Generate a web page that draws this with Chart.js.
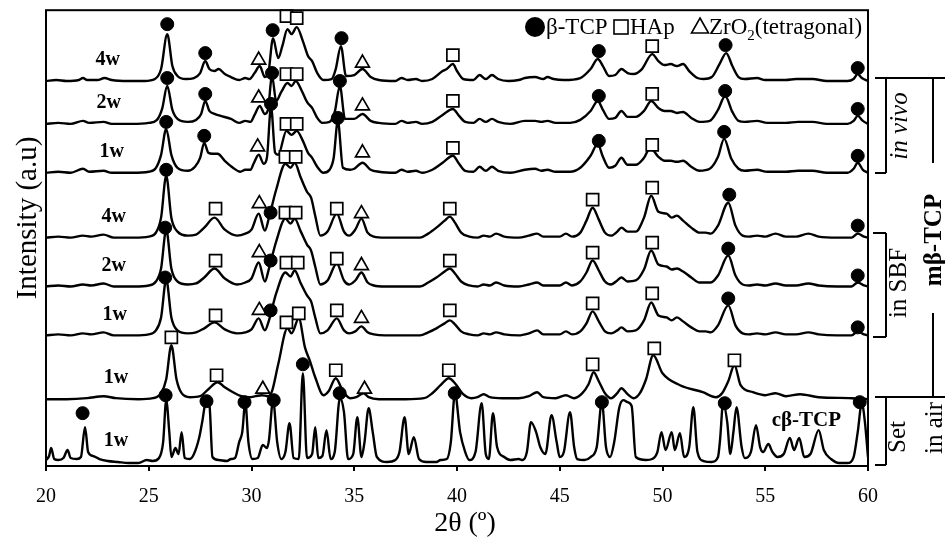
<!DOCTYPE html>
<html><head><meta charset="utf-8">
<script src="https://cdn.jsdelivr.net/npm/chart.js@4/dist/chart.umd.min.js"></script>
<style>html,body{margin:0;padding:0;background:#fff;}#wrap{width:945px;height:544px;position:relative;}</style>
</head><body><div id="wrap"><canvas id="c" width="945" height="544"></canvas></div>
<script>
// ---------- DATA (2θ in degrees, intensity in a.u. above each pattern's baseline) ----------
const xTicks = [20,25,30,35,40,45,50,55,60];
const traceNames = ['in vivo 4w','in vivo 2w','in vivo 1w','in SBF 4w','in SBF 2w','in SBF 1w','mβ-TCP set in air 1w','cβ-TCP set in air 1w'];
const traceLabels = ['4w','2w','1w','4w','2w','1w','1w','1w'];
const offsets = [386,343,294,229,180,131,67,4];

const vivo4w = [[20,0],[20.5,1],[21,0],[21.6,1],[21.8,3],[22,1],[22.5,1],[22.85,3],[23.2,1],[24,0],[24.8,0],[25.3,2],[25.6,12],[25.9,47],[26.15,15],[26.4,5],[26.8,2],[27.2,3],[27.5,8],[27.75,20],[27.95,12],[28.2,10],[28.4,12],[28.7,7],[29,4],[29.4,1],[29.7,3],[29.9,2],[30.15,8],[30.4,15],[30.65,4],[30.8,6],[31.05,43],[31.3,23],[31.5,35],[31.75,52],[31.95,47],[32.2,54],[32.5,40],[32.75,25],[32.95,20],[33.2,8],[33.5,1],[33.9,2],[34.1,12],[34.35,35],[34.6,5],[35,6],[35.4,12],[35.8,4],[36.2,1],[37,0],[37.3,3],[37.6,1],[38,2],[38.3,0],[38.8,2],[39.3,10],[39.5,12],[39.8,17],[40,10],[40.3,2],[40.8,1],[41.1,6],[41.4,2],[41.7,6],[42,2],[42.5,0],[43,1],[43.3,3],[43.8,4],[44.2,2],[44.4,4],[44.7,2],[45.2,1],[46,3],[46.5,12],[46.85,22],[47.1,15],[47.4,5],[47.7,6],[48,12],[48.3,8],[48.6,7],[49,12],[49.5,27],[49.8,20],[50.1,16],[50.4,17],[50.7,15],[51,17],[51.3,10],[51.7,3],[52,2],[52.4,4],[52.8,18],[53.1,28],[53.4,15],[53.7,4],[54,2],[54.6,3],[55,1],[56,1],[56.5,2],[57.3,2],[58,0],[59,0],[59.3,2],[59.5,7],[59.7,3],[60,0]];
const vivo2w = [[20,0],[20.6,1],[21.2,0],[21.8,3],[22.1,1],[22.8,2],[23.2,0],[24.2,0],[25,1],[25.4,4],[25.65,15],[25.9,38],[26.15,14],[26.4,5],[26.9,2],[27.3,4],[27.55,10],[27.75,23],[27.95,13],[28.2,10],[28.5,8],[29,5],[29.4,1],[29.7,3],[29.95,2],[30.15,9],[30.4,18],[30.65,10],[30.8,14],[31,48],[31.2,23],[31.45,32],[31.75,41],[31.95,38],[32.15,43],[32.45,33],[32.7,22],[32.95,16],[33.2,6],[33.45,1],[33.8,2],[34.05,12],[34.3,38],[34.55,5],[35,5],[35.4,10],[35.8,3],[36.2,1],[37,0],[37.3,3],[37.6,1],[38,2],[38.3,0],[38.8,2],[39.3,9],[39.8,15],[40.1,8],[40.4,2],[40.8,1],[41.1,5],[41.4,2],[41.7,5],[42,2],[42.6,0],[43.3,3],[43.8,3],[44.1,2],[44.4,3],[44.8,1],[45.5,1],[46,4],[46.5,13],[46.85,23],[47.1,14],[47.4,5],[47.7,6],[48,13],[48.3,7],[48.7,7],[49.1,13],[49.45,23],[49.8,16],[50.1,13],[50.4,13],[50.7,11],[51,12],[51.4,6],[51.8,2],[52.3,3],[52.7,14],[53.05,28],[53.4,12],[53.7,3],[54,2],[54.6,3],[55.1,1],[56,1],[56.6,2],[57.3,2],[58,0],[59,0],[59.3,3],[59.5,8],[59.75,3],[60,0]];
const vivo1w = [[20,0],[20.6,1],[21.2,0],[21.8,4],[22.1,1],[22.8,2],[23.2,0],[24.2,0],[25,1],[25.35,5],[25.6,18],[25.85,44],[26.1,18],[26.4,5],[26.9,2],[27.25,6],[27.5,15],[27.7,30],[27.9,20],[28.1,19],[28.35,19],[28.7,12],[29.1,5],[29.45,1],[29.7,3],[29.95,3],[30.1,9],[30.35,18],[30.6,9],[30.75,15],[30.95,66],[31.15,20],[31.3,18],[31.7,42],[31.95,38],[32.2,42],[32.5,32],[32.75,20],[32.95,15],[33.2,6],[33.5,0],[33.8,3],[34,15],[34.2,52],[34.45,5],[34.8,3],[35,4],[35.4,10],[35.8,3],[36.2,1],[37,0],[37.3,3],[37.6,1],[38,2],[38.3,0],[38.8,3],[39.3,10],[39.8,17],[40.1,9],[40.4,2],[40.8,1],[41.1,6],[41.4,2],[41.7,6],[42,2],[42.6,0],[43.3,3],[43.8,4],[44.1,2],[44.4,3],[44.8,1],[45.5,1],[46,5],[46.5,17],[46.85,29],[47.1,16],[47.4,5],[47.7,7],[48,15],[48.3,8],[48.7,8],[49.1,15],[49.4,25],[49.8,16],[50.1,12],[50.4,12],[50.7,11],[51,12],[51.4,6],[51.8,2],[52.3,4],[52.7,16],[53,34],[53.35,14],[53.7,4],[54,2],[54.6,3],[55.1,1],[56,1],[56.6,2],[57.3,2],[58,0],[59,0],[59.3,4],[59.5,10],[59.75,3],[60,0]];
const sbf4w = [[20,0],[20.6,1],[21.2,0],[21.8,2],[22.2,1],[22.8,3],[23.3,0],[24.3,0],[25,1],[25.35,5],[25.6,20],[25.85,62],[26.1,20],[26.4,6],[26.9,2],[27.3,3],[27.7,10],[28.2,20],[28.7,8],[29.3,2],[29.7,4],[30,8],[30.35,24],[30.65,7],[30.85,20],[31.2,48],[31.65,74],[31.9,70],[32.1,75],[32.4,60],[32.7,46],[32.9,40],[33.1,22],[33.35,2],[33.7,6],[34.15,24],[34.5,6],[34.75,2],[35.05,8],[35.35,19],[35.65,5],[35.95,1],[36.5,0],[37.5,0],[38.2,0],[38.6,4],[39,10],[39.4,17],[39.65,21],[39.9,15],[40.2,5],[40.6,1],[41,0],[41.3,2],[41.6,1],[41.9,4],[42.3,1],[43,0],[43.5,2],[43.9,4],[44.2,1],[45,1],[45.3,4],[45.6,1],[46,5],[46.3,17],[46.6,30],[46.9,18],[47.2,5],[47.5,2],[47.8,6],[48,10],[48.3,6],[48.7,6],[49.1,20],[49.45,42],[49.8,26],[50.2,24],[50.45,20],[50.7,22],[51,17],[51.4,10],[51.8,5],[52.1,5],[52.35,4],[52.7,12],[53.2,35],[53.55,12],[53.9,2],[54.2,1],[54.6,2],[55,1],[55.5,4],[56,1],[56.5,1],[57.1,4],[57.6,1],[58.5,0],[59.2,0],[59.5,4],[59.8,1],[60,0]];
const sbf2w = [[20,0],[20.6,1],[21.2,0],[21.8,2],[22.2,1],[22.8,3],[23.3,0],[24.3,0],[25,1],[25.35,5],[25.6,18],[25.85,57],[26.1,18],[26.4,5],[26.9,2],[27.3,3],[27.7,9],[28.2,18],[28.7,8],[29.3,2],[29.7,4],[30,8],[30.35,24],[30.65,5],[30.85,18],[31.2,45],[31.65,68],[31.9,63],[32.1,68],[32.4,55],[32.7,42],[32.9,36],[33.1,20],[33.35,2],[33.7,6],[34.15,23],[34.5,6],[34.75,2],[35.05,6],[35.35,14],[35.65,4],[35.95,1],[36.5,0],[37.5,0],[38.2,0],[38.6,4],[39,9],[39.4,15],[39.65,18],[39.9,13],[40.2,5],[40.6,1],[41,0],[41.3,2],[41.6,1],[41.9,4],[42.3,1],[43,0],[43.5,2],[43.9,4],[44.2,1],[45,1],[45.3,4],[45.6,1],[46,5],[46.3,14],[46.6,26],[46.9,16],[47.2,5],[47.5,2],[47.8,6],[48,9],[48.3,5],[48.7,6],[49.1,17],[49.45,36],[49.8,22],[50.2,20],[50.45,17],[50.7,18],[51,15],[51.4,9],[51.8,4],[52.1,4],[52.35,4],[52.7,11],[53.2,31],[53.55,11],[53.9,2],[54.2,1],[54.6,2],[55,1],[55.5,3],[56,1],[56.5,1],[57.1,3],[57.6,1],[58.5,0],[59.2,0],[59.5,4],[59.8,1],[60,0]];
const sbf1w = [[20,0],[20.6,1],[21.2,0],[21.8,2],[22.2,1],[22.8,3],[23.3,0],[24.3,0],[25,1],[25.35,5],[25.6,18],[25.85,56],[26.1,18],[26.4,5],[26.9,2],[27.3,3],[27.7,7],[28.2,13],[28.7,6],[29.3,2],[29.7,3],[30,6],[30.35,17],[30.65,5],[30.85,15],[31.2,42],[31.65,63],[31.9,59],[32.1,65],[32.4,52],[32.7,40],[32.9,34],[33.1,18],[33.35,2],[33.7,5],[34.15,17],[34.5,5],[34.75,2],[35.05,4],[35.35,9],[35.65,3],[35.95,1],[36.5,0],[37.5,0],[38.2,0],[38.6,3],[39,7],[39.4,12],[39.65,15],[39.9,11],[40.2,4],[40.6,1],[41,0],[41.3,2],[41.6,1],[41.9,3],[42.3,1],[43,0],[43.5,2],[43.9,5],[44.2,1],[45,1],[45.3,4],[45.6,1],[46,4],[46.3,12],[46.6,24],[46.9,14],[47.2,4],[47.5,2],[47.8,5],[48,8],[48.3,4],[48.7,5],[49.1,15],[49.45,33],[49.8,20],[50.2,18],[50.45,15],[50.7,18],[51,14],[51.4,8],[51.8,4],[52.1,4],[52.35,3],[52.7,10],[53.2,30],[53.55,10],[53.9,2],[54.2,1],[54.6,2],[55,1],[55.5,3],[56,1],[56.5,1],[57.1,3],[57.6,1],[58.5,0],[59.2,0],[59.5,4],[59.8,1],[60,0]];
const mtcpAir = [[20,0],[21,0],[22,1],[22.8,3],[23.4,1],[24.5,0],[25.2,1],[25.6,6],[25.85,20],[26.1,54],[26.35,20],[26.6,6],[27,2],[27.5,3],[27.9,10],[28.35,17],[28.7,12],[29.1,7],[29.5,3],[29.9,2],[30.2,3],[30.5,4],[30.8,3],[31,8],[31.3,35],[31.75,71],[31.95,66],[32.3,81],[32.6,52],[32.85,38],[33.1,22],[33.5,4],[33.75,8],[34.1,21],[34.45,8],[34.8,1],[35.1,2],[35.45,6],[35.7,2],[36.2,0],[37.5,0],[38.4,1],[38.8,6],[39.2,14],[39.6,21],[39.9,16],[40.3,5],[40.7,1],[41,2],[41.3,5],[41.6,2],[42.2,1],[43,1],[43.5,3],[43.9,7],[44.2,2],[44.8,1],[45.3,4],[45.7,1],[46.1,6],[46.4,15],[46.65,27],[46.9,18],[47.2,6],[47.5,1],[47.8,6],[48,11],[48.3,5],[48.6,1],[48.9,6],[49.2,20],[49.55,44],[50,26],[50.85,14],[51.96,7],[52.6,2],[52.9,6],[53.2,18],[53.5,34],[53.8,14],[54.4,7],[55,4],[55.5,6],[56,3],[56.7,5],[57.6,2],[59.2,1],[60,0]];
const ctcpAir = [[20,2],[20.15,6],[20.25,14],[20.4,3],[20.6,2],[20.85,4],[21.05,12],[21.2,4],[21.5,3],[21.7,5],[21.9,35],[22.05,10],[22.3,6],[22.6,3],[23,1],[23.5,0],[24,-1],[24.5,-1],[24.9,2],[25.2,1],[25.5,4],[25.7,20],[25.85,62],[26,30],[26.1,5],[26.3,14],[26.45,8],[26.6,30],[26.75,4],[27,3],[27.2,8],[27.45,24],[27.6,40],[27.8,62],[27.95,58],[28.1,5],[28.4,2],[28.8,1],[29,3],[29.2,4],[29.4,20],[29.55,30],[29.7,60],[29.85,20],[30.05,3],[30.3,4],[30.55,17],[30.75,14],[30.85,22],[31.05,62],[31.25,20],[31.45,3],[31.65,10],[31.85,39],[32.05,4],[32.3,3],[32.5,89],[32.7,4],[32.95,8],[33.1,35],[33.25,4],[33.45,6],[33.65,32],[33.85,3],[34.05,10],[34.3,64],[34.5,50],[34.7,3],[34.95,8],[35.15,45],[35.35,5],[35.5,20],[35.7,54],[35.9,30],[36.1,5],[36.6,0],[37,2],[37.2,10],[37.45,45],[37.65,8],[37.9,25],[38.15,3],[38.5,0],[39,0],[39.2,2],[39.5,3],[39.7,20],[39.9,69],[40.15,30],[40.4,10],[40.6,2],[40.9,10],[41.2,59],[41.4,8],[41.55,3],[41.75,49],[41.95,15],[42.3,5],[42.6,2],[43,3],[43.2,2],[43.4,10],[43.6,40],[43.85,30],[44.05,15],[44.3,8],[44.6,47],[44.85,20],[45,5],[45.2,10],[45.5,50],[45.7,15],[45.85,3],[46.2,2],[46.5,5],[46.8,15],[47.05,60],[47.25,15],[47.45,5],[47.65,20],[47.9,55],[48.1,62],[48.3,60],[48.5,56],[48.7,5],[49.2,2],[49.5,3],[49.75,10],[49.95,30],[50.15,12],[50.45,30],[50.6,12],[50.85,29],[51.05,5],[51.3,15],[51.5,55],[51.7,10],[52,1],[52.4,0],[52.7,5],[52.8,22],[52.95,59],[53.15,40],[53.3,8],[53.45,30],[53.6,55],[53.85,15],[54,4],[54.3,10],[54.55,37],[54.75,15],[54.9,10],[55.15,18],[55.35,10],[55.6,5],[55.9,8],[56.2,24],[56.4,12],[56.65,24],[56.9,5],[57.2,8],[57.6,32],[57.85,12],[58.2,3],[58.6,-1],[59,-1],[59.3,5],[59.5,30],[59.7,59],[59.85,40],[60,5]];

// phase markers: [phase, 2θ, height above baseline]  b = β-TCP, h = HAp, z = ZrO2
const vivo4wMarks = [['b',25.9,57],['b',27.75,28],['z',30.35,21],['b',31.03,51],['h',31.7,65],['h',32.2,63],['b',34.38,43],['z',35.4,18],['h',39.8,26],['b',46.9,30],['h',49.5,35],['b',53.07,36],['b',59.5,13]];
const vivo2wMarks = [['b',25.9,46],['b',27.75,30],['z',30.35,26],['b',31.0,51],['h',31.7,50],['h',32.2,50],['b',34.3,43],['z',35.4,18],['h',39.8,23],['b',46.9,28],['h',49.5,30],['b',53.05,33],['b',59.5,15]];
const vivo1wMarks = [['b',25.85,51],['b',27.7,37],['z',30.3,26],['b',30.95,69],['h',31.7,49],['h',32.2,49],['b',34.2,55],['z',35.4,20],['h',39.8,25],['b',46.9,32],['h',49.5,28],['b',53.0,41],['b',59.5,17]];
const sbf4wMarks = [['b',25.85,68],['h',28.25,29],['z',30.38,34],['b',30.93,25],['h',31.65,81],['h',32.15,81],['h',34.15,29],['z',35.35,24],['h',39.65,29],['h',46.6,38],['h',49.5,50],['b',53.25,43],['b',59.5,12]];
const sbf2wMarks = [['b',25.8,59],['h',28.25,26],['z',30.38,34],['b',30.93,26],['h',31.65,74],['h',32.15,74],['h',34.15,28],['z',35.35,21],['h',39.65,26],['h',46.6,34],['h',49.5,44],['b',53.2,38],['b',59.5,11]];
const sbf1wMarks = [['b',25.8,58],['h',28.25,20],['z',30.38,25],['b',30.93,25],['h',31.7,73],['h',32.25,73],['h',34.15,25],['z',35.35,17],['h',39.65,25],['h',46.6,32],['h',49.5,42],['b',53.2,37],['b',59.5,8]];
const mtcpAirMarks = [['h',26.1,62],['h',28.3,24],['z',30.55,10],['h',31.7,77],['h',32.3,86],['h',34.1,29],['z',35.5,10],['h',39.6,29],['h',46.6,35],['h',49.6,51],['h',53.5,39]];
const ctcpAirMarks = [['b',21.78,49],['b',25.82,67],['b',27.81,61],['b',29.66,60],['b',31.08,62],['b',32.5,98],['b',34.29,69],['b',39.89,69],['b',47.05,60],['b',53.03,59],['b',59.6,60]];

const traces = [vivo4w, vivo2w, vivo1w, sbf4w, sbf2w, sbf1w, mtcpAir, ctcpAir];
const traceMarks = [vivo4wMarks, vivo2wMarks, vivo1wMarks, sbf4wMarks, sbf2wMarks, sbf1wMarks, mtcpAirMarks, ctcpAirMarks];

// ---------- BUILD ----------
Chart.defaults.font.family = '"Liberation Serif","Times New Roman",serif';
Chart.defaults.color = '#000';
const FONT = '"Liberation Serif","Times New Roman",serif';

const datasets = [];
const markSets = {
  b: {label:'β-TCP', data:[], pointStyle:'circle', pointRadius:6.5, pointBackgroundColor:'#000', pointBorderColor:'#000', pointBorderWidth:1},
  h: {label:'HAp', data:[], pointStyle:'rect', pointRadius:8.5, pointBackgroundColor:'#fff', pointBorderColor:'#000', pointBorderWidth:1.7},
  z: {label:'ZrO2', data:[], pointStyle:'triangle', pointRadius:8, pointBackgroundColor:'#fff', pointBorderColor:'#000', pointBorderWidth:1.7}
};
traceMarks.forEach((marks,i)=>marks.forEach(([p,t,h])=>markSets[p].data.push({x:t,y:offsets[i]+h})));
Object.values(markSets).forEach(m=>datasets.push(Object.assign({type:'line', showLine:false, order:0, clip:false, pointHoverRadius:0}, m)));
traces.forEach((tr,i)=>{
  datasets.push({type:'line', label:traceNames[i], order:1,
    data: tr.map(([t,h])=>({x:t,y:offsets[i]+h})),
    borderColor:'#000', borderWidth:2.4, pointRadius:0, fill:false,
    cubicInterpolationMode:'monotone', borderJoinStyle:'round'});
});

const deco = {
  id:'deco',
  afterDraw(chart){
    const ctx = chart.ctx, a = chart.chartArea, xs = chart.scales.x, ys = chart.scales.y;
    ctx.save();
    ctx.strokeStyle = '#000'; ctx.fillStyle = '#000'; ctx.lineWidth = 2;
    ctx.strokeRect(a.left, a.top, a.right - a.left, a.bottom - a.top);
    // pattern labels
    ctx.font = 'bold 20px ' + FONT; ctx.textAlign = 'center'; ctx.textBaseline = 'middle';
    const lx = [23.0,23.05,23.2,23.3,23.3,23.35,23.4,23.4];
    traceLabels.forEach((t,i)=>ctx.fillText(t, xs.getPixelForValue(lx[i]), ys.getPixelForValue(offsets[i]+21)));
    ctx.font = 'bold 21px ' + FONT;
    ctx.fillText('cβ-TCP', xs.getPixelForValue(57.0), ys.getPixelForValue(offsets[7]+42));
    // axis titles
    ctx.font = '28px ' + FONT;
    ctx.fillText('2θ (º)', (a.left + a.right)/2 + 8, 524);
    ctx.save(); ctx.translate(28, 218); ctx.rotate(-Math.PI/2); ctx.font = '29px ' + FONT; ctx.fillText('Intensity (a.u)', 0, 0); ctx.restore();
    // legend
    ctx.beginPath(); ctx.arc(535, 27, 10, 0, Math.PI*2); ctx.fill();
    ctx.font = '23px ' + FONT; ctx.textAlign = 'left'; ctx.textBaseline = 'alphabetic';
    ctx.fillText('β-TCP', 546, 34);
    ctx.lineWidth = 1.6;
    ctx.strokeRect(614, 20, 14, 14);
    ctx.fillText('HAp', 630, 34);
    ctx.beginPath(); ctx.moveTo(700, 18); ctx.lineTo(708.5, 33); ctx.lineTo(691.5, 33); ctx.closePath(); ctx.stroke();
    let x = 709;
    ctx.fillText('ZrO', x, 34); x += ctx.measureText('ZrO').width;
    ctx.font = '15px ' + FONT; ctx.fillText('2', x, 40); x += ctx.measureText('2').width;
    ctx.font = '23px ' + FONT; ctx.fillText('(tetragonal)', x, 34);
    // brackets
    ctx.lineWidth = 2;
    const seg = (x1,y1,x2,y2)=>{ctx.beginPath(); ctx.moveTo(x1,y1); ctx.lineTo(x2,y2); ctx.stroke();};
    seg(875,78,945,78); seg(886,78,886,173); seg(875,173,886,173);
    seg(933,78,933,163); seg(933,313,933,397); seg(875,397,945,397);
    seg(873,233,886,233); seg(886,233,886,337); seg(873,337,886,337);
    seg(886,397,886,465); seg(875,465,886,465);
    const vtext = (t,cx,cy,f)=>{ctx.save(); ctx.translate(cx,cy); ctx.rotate(-Math.PI/2); ctx.font=f; ctx.textAlign='center'; ctx.textBaseline='middle'; ctx.fillText(t,0,0); ctx.restore();};
    vtext('in vivo', 900, 126, 'italic 25px ' + FONT);
    vtext('in SBF', 899, 283, '25px ' + FONT);
    vtext('mβ-TCP', 935, 240, 'bold 25px ' + FONT);
    vtext('Set', 898, 437, '25px ' + FONT);
    vtext('in air', 935, 428, '25px ' + FONT);
    ctx.restore();
  }
};

new Chart(document.getElementById('c'), {
  type:'line',
  data:{datasets},
  options:{
    responsive:false, animation:false, devicePixelRatio:1,
    layout:{padding:{left:46, right:77, top:9, bottom:0}},
    plugins:{legend:{display:false}, tooltip:{enabled:false}},
    events:[],
    scales:{
      x:{type:'linear', min:20, max:60,
        afterBuildTicks:s=>{s.ticks = xTicks.map(v=>({value:v}));},
        afterFit:s=>{s.height = 78;},
        ticks:{font:{size:20, family:FONT}, color:'#000', maxRotation:0, autoSkip:false, padding:14},
        grid:{display:true, drawOnChartArea:false, drawTicks:true, tickLength:5, color:'#000', lineWidth:2},
        border:{display:false}},
      y:{display:false, min:0, max:457}
    }
  },
  plugins:[deco]
});
</script></body></html>
